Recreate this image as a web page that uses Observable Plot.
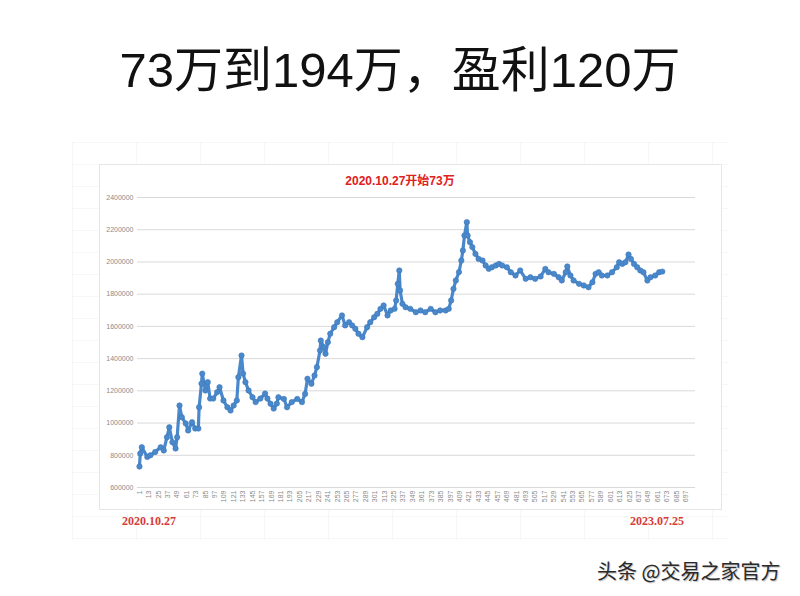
<!DOCTYPE html>
<html>
<head>
<meta charset="utf-8">
<script src="https://cdn.jsdelivr.net/npm/d3@7"></script>
<script src="https://cdn.jsdelivr.net/npm/@observablehq/plot@0.6"></script>
<style>
  html, body { margin: 0; padding: 0; background: #fff; width: 800px; height: 596px; overflow: hidden; }
  body { position: relative; font-family: "Liberation Sans", "Noto Sans CJK SC", sans-serif; }
  #title { position: absolute; left: 0; top: 38px; width: 800px; text-align: center; font-size: 49px; color: #111; line-height: 64px; font-family: "Liberation Sans", "Noto Sans CJK SC", sans-serif; }
  #sheet { position: absolute; left: 72px; top: 142px; width: 656px; height: 398px;
    background-image: linear-gradient(to right, rgba(0,0,0,0.03) 1px, transparent 1px), linear-gradient(to bottom, rgba(0,0,0,0.03) 1px, transparent 1px);
    background-size: 64px 100%, 100% 22px; }
  #frame { position: absolute; left: 99px; top: 164px; width: 621px; height: 344px; border: 1px solid #e6e6e6; background: #fff; }
  #chart { position: absolute; left: 0; top: 150px; }
  #inner { position: absolute; left: 0; top: 171px; width: 800px; text-align: center; font-size: 12px; font-weight: bold; color: #e02020; font-family: "Liberation Sans", "Noto Sans CJK SC", sans-serif; }
  .date { position: absolute; top: 514px; font-size: 12px; font-weight: bold; color: #d83a3a; font-family: "Liberation Serif", "Noto Sans CJK SC", serif; }
  #mark { position: absolute; left: 597px; top: 556px; font-size: 20px; color: #2a2a2a; font-family: "Noto Sans CJK SC", sans-serif; text-shadow: 1px 1px 1px rgba(0,0,0,0.25); }
</style>
</head>
<body>
<div id="title">73万到194万，盈利120万</div>
<div id="sheet"></div>
<div id="frame"></div>
<div id="inner">2020.10.27开始73万</div>
<div id="chart"></div>
<div class="date" id="d0" style="left:122px">2020.10.27</div>
<div class="date" id="d1" style="left:630px">2023.07.25</div>
<div id="mark">头条 @交易之家官方</div>
<script>
// trading-day index (category number) of sampled points
const dayIndex = [
  1, 2, 4, 11, 15, 21, 28, 32, 36, 39, 43, 47, 49, 52, 55, 60, 63, 68, 72, 76,
  77, 80, 81, 85, 88, 91, 95, 100, 103, 108, 113, 117, 121, 125, 127, 131, 133, 136, 140, 145,
  149, 155, 161, 164, 168, 172, 176, 178, 185, 189, 195, 202, 208, 212, 215, 220, 224, 227, 231, 232,
  236, 238, 241, 244, 249, 253, 259, 263, 268, 272, 276, 280, 285, 291, 295, 300, 304, 308, 312, 317,
  321, 326, 328, 330, 332, 333, 336, 340, 346, 353, 359, 365, 372, 378, 384, 391, 395, 398, 401, 404,
  408, 411, 413, 415, 418, 419, 422, 425, 429, 433, 438, 442, 446, 450, 455, 459, 463, 469, 474, 480,
  486, 493, 499, 505, 512, 518, 522, 529, 535, 539, 544, 546, 550, 554, 561, 567, 573, 578, 582, 586,
  590, 597, 603, 609, 612, 616, 620, 624, 627, 631, 635, 639, 643, 648, 652, 658, 663, 667
];
// account equity (yuan)
const equity = [
  730000, 811000, 850000, 790000, 800000, 820000, 850000, 830000, 912000, 974000, 881000, 842000, 912000, 1109000, 1036000, 997000, 954000, 1005000, 966000, 966000,
  1098000, 1245000, 1307000, 1202000, 1254000, 1152000, 1152000, 1192000, 1223000, 1140000, 1098000, 1078000, 1109000, 1140000, 1285000, 1419000, 1307000, 1254000, 1202000, 1160000,
  1130000, 1152000, 1183000, 1152000, 1120000, 1090000, 1121000, 1160000, 1150000, 1098000, 1130000, 1150000, 1130000, 1181000, 1275000, 1244000, 1295000, 1347000, 1450000, 1512000,
  1471000, 1430000, 1502000, 1554000, 1595000, 1626000, 1668000, 1606000, 1626000, 1606000, 1585000, 1554000, 1533000, 1595000, 1626000, 1657000, 1678000, 1709000, 1730000, 1668000,
  1699000, 1709000, 1761000, 1864000, 1947000, 1823000, 1740000, 1719000, 1709000, 1688000, 1699000, 1688000, 1709000, 1688000, 1699000, 1699000, 1709000, 1761000, 1833000, 1885000,
  1937000, 2009000, 2071000, 2164000, 2247000, 2164000, 2123000, 2092000, 2050000, 2019000, 2009000, 1978000, 1957000, 1967000, 1978000, 1988000, 1978000, 1967000, 1936000, 1916000,
  1947000, 1895000, 1905000, 1895000, 1910000, 1957000, 1936000, 1926000, 1905000, 1885000, 1936000, 1972000, 1916000, 1885000, 1864000, 1854000, 1843000, 1874000, 1926000, 1936000,
  1916000, 1916000, 1936000, 1967000, 1998000, 1988000, 1998000, 2046000, 2019000, 1988000, 1967000, 1947000, 1936000, 1885000, 1905000, 1916000, 1936000, 1940000
];
const xTicks = d3.range(1, 698, 12);
const yTicks = d3.range(600000, 2400001, 200000);

const data = dayIndex.map((d, k) => ({i: d, v: equity[k]}));
const blue = "#4a88cc";

const chart = Plot.plot({
  width: 800,
  height: 380,
  marginLeft: 137,
  marginRight: 105,
  marginTop: 47,
  marginBottom: 43,
  style: {fontSize: "7px", color: "#8a8a8a", fontFamily: "Liberation Sans, sans-serif", background: "transparent"},
  x: {domain: [-1.5, 709.3], ticks: xTicks, tickFormat: d => String(d), tickRotate: -90, tickSize: 0, tickPadding: 3, label: null},
  y: {domain: [600000, 2400000], ticks: yTicks, tickFormat: d => String(d), tickSize: 0, tickPadding: 4, label: null},
  marks: [
    Plot.ruleY(yTicks, {stroke: "#d9d9d9", strokeWidth: 1}),
    Plot.line(data, {x: "i", y: "v", stroke: blue, strokeWidth: 3.2, strokeLinejoin: "round"}),
    Plot.dot(data, {x: "i", y: "v", r: 2.7, fill: blue, stroke: "#3d78ba", strokeWidth: 0.6})
  ]
});
document.getElementById("chart").appendChild(chart);
</script>
</body>
</html>
